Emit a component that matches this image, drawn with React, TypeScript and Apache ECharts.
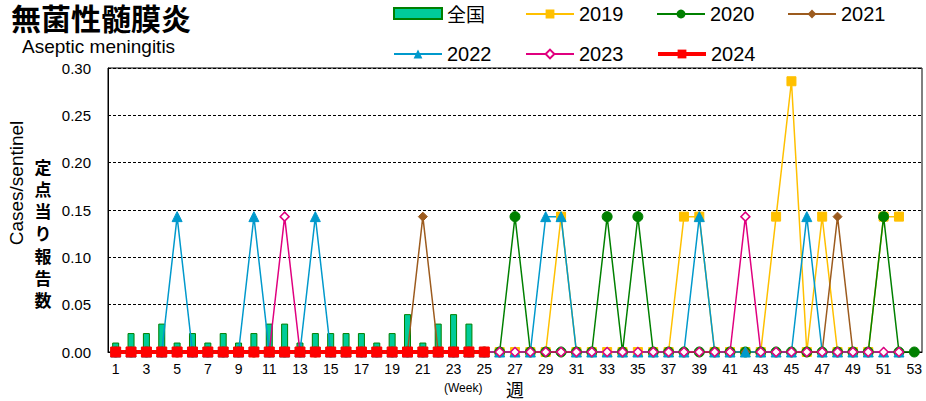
import React, { useEffect, useRef } from "react";
import * as echarts from "echarts";

const weeks: string[] = Array.from({ length: 53 }, (_, i) => String(i + 1));

const national: (number | null)[] = [
  0.01, 0.02, 0.02, 0.03, 0.01, 0.02, 0.01, 0.02, 0.01, 0.02,
  0.03, 0.03, 0.01, 0.02, 0.02, 0.02, 0.02, 0.01, 0.02, 0.04,
  0.01, 0.03, 0.04, 0.03, null,
];

const P = 0.143;
const P2 = 0.286;

const y2019: (number | null)[] = [
  0, 0, 0, 0, 0, 0, 0, 0, 0, 0,
  0, 0, 0, 0, 0, 0, 0, 0, 0, 0,
  0, 0, 0, 0, 0, 0, 0, 0, 0, P,
  0, 0, 0, 0, 0, 0, 0, P, P, 0,
  0, 0, 0, P, P2, 0, P, 0, 0, 0,
  P, P,
];
const y2020: (number | null)[] = [
  0, 0, 0, 0, 0, 0, 0, 0, 0, 0,
  0, 0, 0, 0, 0, 0, 0, 0, 0, 0,
  0, 0, 0, 0, 0, 0, P, 0, 0, 0,
  0, 0, P, 0, P, 0, 0, 0, 0, 0,
  0, 0, 0, 0, 0, 0, 0, 0, 0, 0,
  P, 0, 0,
];
const y2021: (number | null)[] = [
  0, 0, 0, 0, 0, 0, 0, 0, 0, 0,
  0, 0, 0, 0, 0, 0, 0, 0, 0, 0,
  P, 0, 0, 0, 0, 0, 0, 0, 0, 0,
  0, 0, 0, 0, 0, 0, 0, 0, 0, 0,
  0, 0, 0, 0, 0, 0, 0, P, 0, 0,
  0, 0,
];
const y2022: (number | null)[] = [
  0, 0, 0, 0, P, 0, 0, 0, 0, P,
  0, 0, 0, P, 0, 0, 0, 0, 0, 0,
  0, 0, 0, 0, 0, 0, 0, 0, P, P,
  0, 0, 0, 0, 0, 0, 0, 0, P, 0,
  0, 0, 0, 0, 0, P, 0, 0, 0, 0,
  0, 0,
];
const y2023: (number | null)[] = [
  0, 0, 0, 0, 0, 0, 0, 0, 0, 0,
  0, P, 0, 0, 0, 0, 0, 0, 0, 0,
  0, 0, 0, 0, 0, 0, 0, 0, 0, 0,
  0, 0, 0, 0, 0, 0, 0, 0, 0, 0,
  0, P, 0, 0, 0, 0, 0, 0, 0, 0,
  0, 0,
];
const y2024: (number | null)[] = [
  0, 0, 0, 0, 0, 0, 0, 0, 0, 0,
  0, 0, 0, 0, 0, 0, 0, 0, 0, 0,
  0, 0, 0, 0, 0,
];

const yTicks = { min: 0, max: 0.3, interval: 0.05 };
const yTitleChars = ["定", "点", "当", "り", "報", "告", "数"];

const FONT = "Liberation Sans, Arial, sans-serif";
const CJK = "Noto Sans CJK JP, sans-serif";

export default function App() {
  const ref = useRef<HTMLDivElement>(null);
  useEffect(() => {
    if (!ref.current) return;
    const chart = echarts.init(ref.current, undefined, { renderer: "svg" });
    const legendBase = {
      itemWidth: 48,
      itemHeight: 11,
      itemGap: 5,
      textStyle: { fontSize: 20, fontFamily: FONT, color: "#000" },
      selectedMode: false,
      padding: 0,
    };
    const lineSeries = (
      name: string,
      data: (number | null)[],
      color: string,
      symbol: string,
      size: number,
      extra: any = {}
    ) => ({
      name,
      type: "line",
      data,
      symbol,
      symbolSize: size,
      lineStyle: { color, width: 1.5 },
      itemStyle: { color, borderColor: color },
      ...extra,
    });
    chart.setOption({
      animation: false,
      grid: {
        left: 108,
        right: 4,
        top: 68,
        bottom: 49,
        show: true,
        borderColor: "#000",
        borderWidth: 1,
      },
      legend: [
        {
          ...legendBase,
          data: [{ name: "全国", icon: "rect" }],
          left: 393,
          top: 4,
          textStyle: { ...legendBase.textStyle, fontFamily: CJK, fontSize: 19 },
        },
        { ...legendBase, data: ["2019"], left: 525, top: 4 },
        { ...legendBase, data: ["2020"], left: 656, top: 4 },
        { ...legendBase, data: ["2021"], left: 787, top: 4 },
        { ...legendBase, data: ["2022"], left: 393, top: 44 },
        { ...legendBase, data: ["2023"], left: 525, top: 44 },
        {
          ...legendBase,
          data: [{ name: "2024", lineStyle: { width: 4, color: "#FF0000" } }],
          left: 656,
          top: 44,
        },
      ],
      xAxis: {
        type: "category",
        data: weeks,
        boundaryGap: true,
        axisLine: { show: true, lineStyle: { color: "#000", width: 1 } },
        axisTick: { show: false },
        axisLabel: {
          interval: 1,
          fontSize: 14,
          fontFamily: FONT,
          color: "#000",
          margin: 10,
        },
        splitLine: { show: false },
      },
      yAxis: {
        type: "value",
        min: yTicks.min,
        max: yTicks.max,
        interval: yTicks.interval,
        axisLine: { show: true, lineStyle: { color: "#000" } },
        axisTick: { show: false },
        axisLabel: {
          formatter: (v: number) => v.toFixed(2),
          fontSize: 15,
          fontFamily: FONT,
          color: "#000",
          margin: 17,
        },
        splitLine: { show: true, lineStyle: { color: "#000", type: [3, 2], width: 1 } },
      },
      graphic: [
        {
          type: "text",
          x: 11,
          y: 17,
          style: {
            text: "無菌性髄膜炎",
            font: `bold 30px ${CJK}`,
            fill: "#000",
            verticalAlign: "middle",
          },
        },
        {
          type: "text",
          left: 22,
          top: 37,
          style: { text: "Aseptic meningitis", font: `19px ${FONT}`, fill: "#000" },
        },
        {
          type: "text",
          x: 7,
          y: 183,
          rotation: Math.PI / 2,
          style: {
            text: "Cases/sentinel",
            font: `19px ${FONT}`,
            fill: "#000",
            align: "center",
            verticalAlign: "top",
          },
        },
        ...yTitleChars.map((ch, i) => ({
          type: "text",
          x: 43,
          y: 166 + i * 22.3,
          style: {
            text: ch,
            font: `bold 17px ${CJK}`,
            fill: "#000",
            align: "center",
            verticalAlign: "middle",
          },
        })),
        {
          type: "text",
          left: 444,
          top: 382,
          style: { text: "(Week)", font: `12px ${FONT}`, fill: "#000" },
        },
        {
          type: "text",
          left: 506,
          top: 380,
          style: { text: "週", font: `18px ${CJK}`, fill: "#000" },
        },
      ],
      series: [
        {
          name: "全国",
          type: "bar",
          data: national,
          barWidth: 7,
          itemStyle: { color: "#00CC99", borderColor: "#008000", borderWidth: 1 },
        },
        lineSeries("2019", y2019, "#FFC000", "rect", 9),
        lineSeries("2020", y2020, "#008000", "circle", 10),
        lineSeries("2021", y2021, "#9C5B1E", "diamond", 9),
        lineSeries("2022", y2022, "#0099CC", "triangle", 10),
        {
          ...lineSeries("2023", y2023, "#E0007F", "diamond", 9),
          itemStyle: { color: "#fff", borderColor: "#E0007F", borderWidth: 1.5 },
        },
        {
          ...lineSeries("2024", y2024, "#FF0000", "rect", 10),
          lineStyle: { color: "#FF0000", width: 4 },
        },
      ],
    });
    return () => chart.dispose();
  }, []);
  return <div ref={ref} style={{ width: 926, height: 401, position: "absolute", left: 0, top: 0 }} />;
}
